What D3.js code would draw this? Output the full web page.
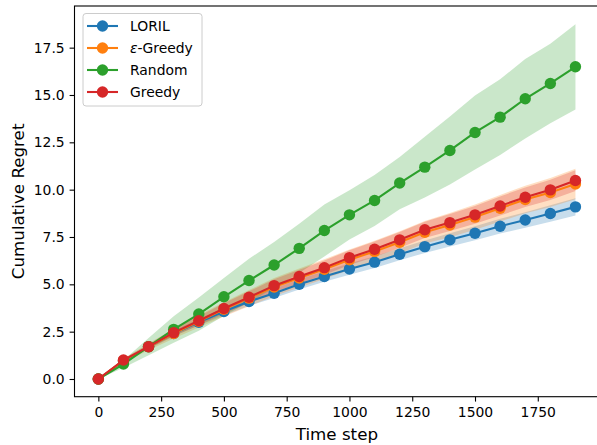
<!DOCTYPE html>
<html>
<head>
<meta charset="utf-8">
<script src="https://cdn.jsdelivr.net/npm/d3@7/dist/d3.min.js"></script>
<style>
  body { margin: 0; background: #fff; }
  svg { display: block; font-family: "DejaVu Sans", sans-serif; }
</style>
</head>
<body>
<svg id="chart" width="597" height="445"></svg>
<script>
// time steps (x)
const steps = [0, 100, 200, 300, 400, 500, 600, 700, 800, 900, 1000, 1100, 1200, 1300, 1400, 1500, 1600, 1700, 1800, 1900];

// mean cumulative regret per method
const loril = [0, 0.95, 1.7, 2.4, 3.0, 3.56, 4.09, 4.53, 5.0, 5.41, 5.81, 6.17, 6.59, 6.99, 7.35, 7.7, 8.07, 8.4, 8.74, 9.09];
const epsGreedy = [0, 0.97, 1.7, 2.4, 3.05, 3.68, 4.27, 4.86, 5.33, 5.8, 6.3, 6.74, 7.22, 7.75, 8.13, 8.55, 9.02, 9.48, 9.85, 10.3];
const random = [0, 0.79, 1.71, 2.62, 3.43, 4.34, 5.2, 6.02, 6.9, 7.84, 8.67, 9.43, 10.35, 11.19, 12.07, 13.02, 13.83, 14.8, 15.61, 16.49];
const greedy = [0, 1.0, 1.71, 2.45, 3.08, 3.72, 4.32, 4.93, 5.41, 5.88, 6.41, 6.85, 7.35, 7.88, 8.26, 8.67, 9.14, 9.6, 9.99, 10.48];

// spread (shaded band half width)
const lorilStd = [0, 0.05, 0.09, 0.13, 0.17, 0.2, 0.22, 0.25, 0.27, 0.28, 0.3, 0.31, 0.32, 0.33, 0.35, 0.37, 0.39, 0.41, 0.43, 0.45];
const epsGreedyStd = [0, 0.1, 0.18, 0.26, 0.33, 0.38, 0.43, 0.47, 0.5, 0.52, 0.54, 0.56, 0.58, 0.6, 0.64, 0.67, 0.7, 0.73, 0.76, 0.8];
const randomStd = [0, 0.2, 0.45, 0.7, 0.88, 1.0, 1.15, 1.22, 1.3, 1.37, 1.3, 1.35, 1.38, 1.6, 1.8, 1.95, 2.0, 2.1, 2.1, 2.25];
const greedyStd = [0, 0.07, 0.13, 0.19, 0.24, 0.28, 0.31, 0.34, 0.36, 0.38, 0.39, 0.41, 0.42, 0.43, 0.45, 0.47, 0.5, 0.52, 0.53, 0.55];

const xTicks = [0, 250, 500, 750, 1000, 1250, 1500, 1750];
const yTicks = [0, 2.5, 5, 7.5, 10, 12.5, 15, 17.5];

const series = [
    { name: 'LORIL', mean: loril, std: lorilStd, color: '#1f77b4' },
    { name: 'ε-Greedy', mean: epsGreedy, std: epsGreedyStd, color: '#ff7f0e' },
    { name: 'Random', mean: random, std: randomStd, color: '#2ca02c' },
    { name: 'Greedy', mean: greedy, std: greedyStd, color: '#d62728' }
];

const axLeft = 74.5, axRight = 599.3, axTop = 6, axBottom = 396.7;

const x = d3.scaleLinear().domain([-95, 1995]).range([axLeft, axRight]);
const y = d3.scaleLinear().domain([-0.935, 19.7]).range([axBottom, axTop]);

const svg = d3.select('#chart');
const plot = svg.append('g');

const band = d3.area()
    .x((d, i) => x(steps[i]))
    .y0(d => y(d.mean - d.std))
    .y1(d => y(d.mean + d.std));

const line = d3.line()
    .x((d, i) => x(steps[i]))
    .y(d => y(d));

series.forEach(s => {
    const rows = s.mean.map((m, i) => ({ mean: m, std: s.std[i] }));
    plot.append('path')
        .attr('d', band(rows))
        .attr('fill', s.color)
        .attr('fill-opacity', 0.25);
});

series.forEach(s => {
    plot.append('path')
        .attr('d', line(s.mean))
        .attr('fill', 'none')
        .attr('stroke', s.color)
        .attr('stroke-width', 2.1);
    plot.selectAll(null)
        .data(s.mean)
        .enter()
        .append('circle')
        .attr('cx', (d, i) => x(steps[i]))
        .attr('cy', d => y(d))
        .attr('r', 5.7)
        .attr('fill', s.color);
});

// axes
const xAxis = svg.append('g')
    .attr('transform', `translate(0,${axBottom})`)
    .call(d3.axisBottom(x).tickValues(xTicks).tickSize(4.9).tickPadding(5.5).tickFormat(d3.format('d')));
const yAxis = svg.append('g')
    .attr('transform', `translate(${axLeft},0)`)
    .call(d3.axisLeft(y).tickValues(yTicks).tickSize(4.9).tickPadding(4.9).tickFormat(d3.format('.1f')));

[xAxis, yAxis].forEach(a => {
    a.select('.domain').remove();
    a.selectAll('.tick line').attr('stroke', '#000').attr('stroke-width', 1.1);
    a.selectAll('.tick text')
        .attr('fill', '#000')
        .style('font-size', '13.9px')
        .style('font-family', '"DejaVu Sans", sans-serif');
});

// frame
svg.append('rect')
    .attr('x', axLeft).attr('y', axTop)
    .attr('width', axRight - axLeft).attr('height', axBottom - axTop)
    .attr('fill', 'none')
    .attr('stroke', '#000')
    .attr('stroke-width', 1.1);

svg.append('text')
    .attr('x', (axLeft + axRight) / 2)
    .attr('y', 440)
    .attr('text-anchor', 'middle')
    .style('font-size', '16.7px')
    .text('Time step');

svg.append('text')
    .attr('transform', `translate(24,${(axTop + axBottom) / 2}) rotate(-90)`)
    .attr('text-anchor', 'middle')
    .style('font-size', '16.7px')
    .text('Cumulative Regret');

// legend
const legend = svg.append('g');
legend.append('rect')
    .attr('x', 83).attr('y', 13.5)
    .attr('width', 119).attr('height', 92.5)
    .attr('rx', 3)
    .attr('fill', '#fff').attr('fill-opacity', 0.8)
    .attr('stroke', '#ccc').attr('stroke-width', 1);

series.forEach((s, i) => {
    const ly = 26 + i * 22;
    legend.append('line')
        .attr('x1', 87).attr('x2', 118)
        .attr('y1', ly).attr('y2', ly)
        .attr('stroke', s.color).attr('stroke-width', 2.1);
    legend.append('circle')
        .attr('cx', 102.5).attr('cy', ly).attr('r', 5.7)
        .attr('fill', s.color);
    const t = legend.append('text')
        .attr('x', 130).attr('y', ly + 5)
        .style('font-size', '13.9px');
    if (s.name.startsWith('ε')) {
        t.append('tspan').style('font-style', 'italic').text('ε');
        t.append('tspan').text(s.name.slice(1));
    } else {
        t.text(s.name);
    }
});
</script>
</body>
</html>
